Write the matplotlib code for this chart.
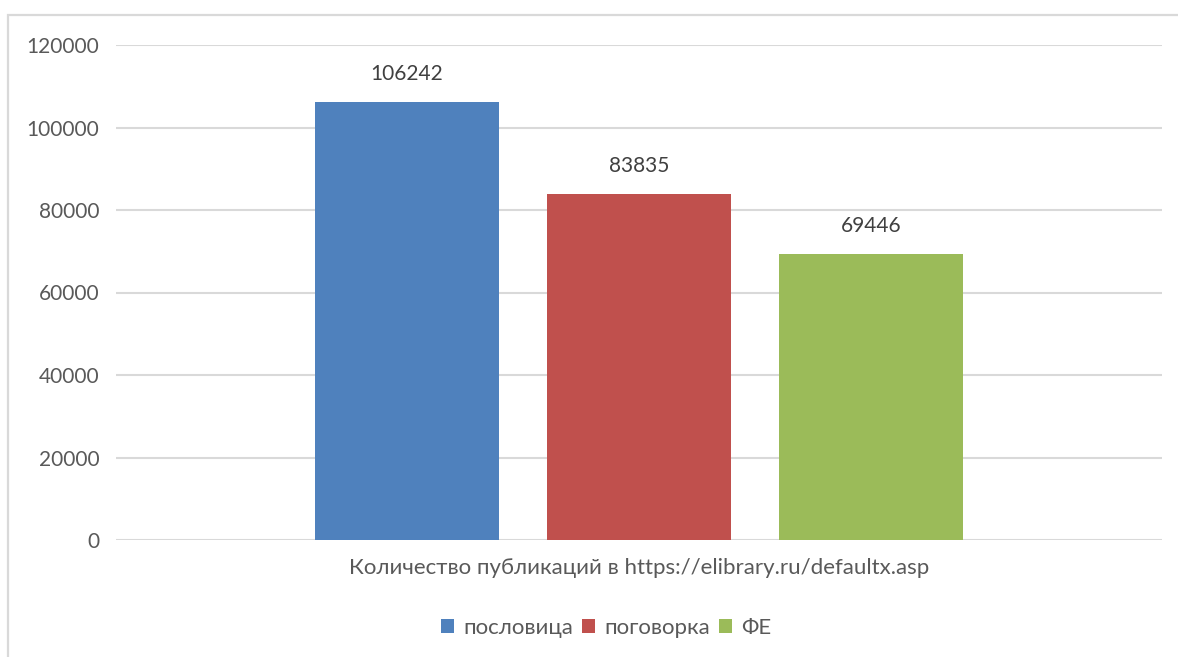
import matplotlib
matplotlib.use("Agg")
import matplotlib.pyplot as plt
from matplotlib.patches import Rectangle

plt.rcParams['font.family'] = ['Lato', 'DejaVu Sans']

category = "Количество публикаций в https://elibrary.ru/defaultx.asp"
series = ["пословица", "поговорка", "ФЕ"]
values = [106242, 83835, 69446]
colors = ["#4F81BD", "#C0504D", "#9BBB59"]
yticks = [0, 20000, 40000, 60000, 80000, 100000, 120000]

FS = 16
FS_NUM = 15

fig = plt.figure(figsize=(11.78, 6.57), dpi=100)
ax = fig.add_axes([116/1178, 1-540/657, (1162-116)/1178, (540-45)/657])

# outer frame
fig.patches.append(Rectangle((8/1178, -0.05), 1.2, 1-15/657+0.05, transform=fig.transFigure,
                             fill=False, edgecolor="#d9d9d9", linewidth=1.6, zorder=0))

width = 0.175
offset = 0.2218
center = 0.5
handles = []
for i, (s, v, c) in enumerate(zip(series, values, colors)):
    x = center + (i - 1) * offset
    b = ax.bar(x, v, width=width, color=c, label=s, zorder=3)
    handles.append(b)
    ax.text(x, v + 4300, str(v), ha="center", va="bottom", fontsize=FS_NUM, color="#404040")

ax.set_xlim(0, 1)
ax.set_ylim(0, 120000)
ax.set_yticks(yticks)
ax.set_yticklabels([str(t) for t in yticks], fontsize=FS_NUM, color="#595959")
ax.tick_params(axis="y", length=0, pad=12)
ax.set_xticks([center])
ax.set_xticklabels([category], fontsize=FS, color="#595959")
ax.tick_params(axis="x", length=0, pad=13)
ax.grid(axis="y", color="#d9d9d9", linewidth=1.5, zorder=0)
ax.set_axisbelow(True)
for sp in ax.spines.values():
    sp.set_visible(False)

fig.legend(handles=handles, labels=series, loc="center", bbox_to_anchor=(606/1178, 1-628/657),
           ncol=3, frameon=False, fontsize=FS, handlelength=0.6, handleheight=0.6,
           handletextpad=0.4, columnspacing=0.4, labelcolor="#595959")

fig.savefig("out.png", dpi=100)
